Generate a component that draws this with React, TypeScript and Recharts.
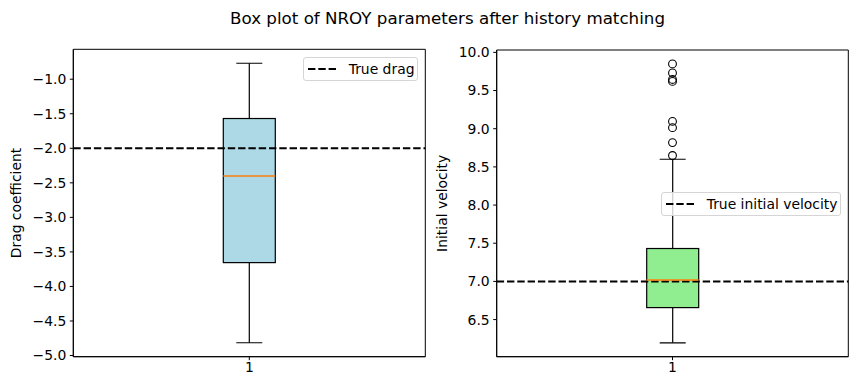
import React from 'react';
import {
  ComposedChart,
  Bar,
  Scatter,
  XAxis,
  YAxis,
  ReferenceLine,
  ReferenceArea,
} from 'recharts';

// values
const categories = ['1'];

const dragWhisker = [-4.815, -0.769];
const dragBox = [-3.655, -1.569];
const dragMedian = -2.402;
const dragOutliers: number[] = [];
const trueDrag = -2.0;
const dragTicks = [-5.0, -4.5, -4.0, -3.5, -3.0, -2.5, -2.0, -1.5, -1.0];
const dragDomain = [-5.017, -0.567];

const velWhisker = [6.196, 8.6];
const velBox = [6.657, 7.431];
const velMedian = 7.018;
const velOutliers = [8.649, 8.818, 9.014, 9.096, 9.62, 9.645, 9.731, 9.849];
const trueVelocity = 7.0;
const velTicks = [6.5, 7.0, 7.5, 8.0, 8.5, 9.0, 9.5, 10.0];
const velDomain = [6.014, 10.031];

const FONT = 'DejaVu Sans, sans-serif';
const DASH = '7.4 2.9';
const fmt = (v: number) => v.toFixed(1).replace('-', '\u2212');

const WhiskerShape = (props: any) => {
  const { x, y, width, height } = props;
  const top = Math.min(y, y + height);
  const bot = Math.max(y, y + height);
  const cx = x + width / 2;
  return (
    <g stroke="#000" strokeWidth={1.2}>
      <line x1={cx} x2={cx} y1={top} y2={bot} />
      <line x1={x} x2={x + width} y1={top} y2={top} />
      <line x1={x} x2={x + width} y1={bot} y2={bot} />
    </g>
  );
};

const boxShape = (fill: string) => (props: any) => {
  const { x, y, width, height } = props;
  return (
    <rect
      x={x}
      y={Math.min(y, y + height)}
      width={width}
      height={Math.abs(height)}
      fill={fill}
      stroke="#000"
      strokeWidth={1.2}
    />
  );
};

const MedianShape = (props: any) => {
  const { cx, cy } = props;
  return <line x1={cx - 26} x2={cx + 26} y1={cy} y2={cy} stroke="#ff7f0e" strokeWidth={1.4} />;
};

const FlierShape = (props: any) => {
  const { cx, cy } = props;
  return <circle cx={cx} cy={cy} r={3.9} fill="none" stroke="#000" strokeWidth={1.1} />;
};

const tickStyle = { fill: '#000', fontSize: 13.9, fontFamily: FONT };

interface PanelProps {
  left: number;
  width: number;
  yWidth: number;
  marginTop: number;
  marginRight: number;
  whisker: number[];
  box: number[];
  median: number;
  outliers: number[];
  trueValue: number;
  ticks: number[];
  domain: number[];
  fill: string;
  yLabel: string;
  labelX: number;
}

const Panel = (p: PanelProps) => {
  const rows = categories.map((name) => ({
    name,
    whisker: p.whisker,
    box: p.box,
    median: p.median,
  }));
  const flierRows = p.outliers.map((v) => ({ name: categories[0], v }));
  return (
    <div style={{ position: 'absolute', left: p.left, top: 0 }}>
      <ComposedChart
        width={p.width}
        height={391}
        data={rows}
        margin={{ top: p.marginTop, right: p.marginRight, bottom: 4.3, left: 0 }}
      >
        <XAxis
          xAxisId={0}
          dataKey="name"
          type="category"
          allowDuplicatedCategory={false}
          height={30}
          tick={tickStyle}
          tickSize={3.5}
          tickMargin={2}
          stroke="#000"
          tickLine={{ stroke: '#000' }}
        />
        <XAxis
          xAxisId="box"
          dataKey="name"
          type="category"
          allowDuplicatedCategory={false}
          hide
        />
        <YAxis
          type="number"
          domain={p.domain}
          ticks={p.ticks}
          allowDataOverflow
          width={p.yWidth}
          tick={tickStyle}
          tickFormatter={fmt}
          tickSize={3.5}
          tickMargin={3.5}
          stroke="#000"
          tickLine={{ stroke: '#000' }}
          label={{
            content: (lp: any) => {
              const vb = lp.viewBox || { y: 0, height: 391 };
              const cy = vb.y + vb.height / 2;
              return (
                <text
                  x={p.labelX}
                  y={cy}
                  transform={`rotate(-90, ${p.labelX}, ${cy})`}
                  textAnchor="middle"
                  dominantBaseline="central"
                  fontSize={13.9}
                  fontFamily={FONT}
                  fill="#000"
                >
                  {p.yLabel}
                </text>
              );
            },
          }}
        />
        {/* frame around the plot area (matplotlib spines) */}
        <ReferenceArea
          xAxisId={0}
          y1={p.domain[0]}
          y2={p.domain[1]}
          fill="none"
          fillOpacity={0}
          stroke="#000"
          strokeWidth={1}
          ifOverflow="visible"
        />
        <Bar
          xAxisId={0}
          dataKey="whisker"
          barSize={26}
          shape={WhiskerShape}
          isAnimationActive={false}
        />
        <Bar
          xAxisId="box"
          dataKey="box"
          barSize={52}
          shape={boxShape(p.fill)}
          isAnimationActive={false}
        />
        <ReferenceLine
          xAxisId={0}
          y={p.trueValue}
          stroke="#000"
          strokeWidth={2}
          strokeDasharray={DASH}
        />
        <Scatter
          xAxisId={0}
          dataKey="median"
          shape={MedianShape}
          isAnimationActive={false}
        />
        {p.outliers.length > 0 && (
          <Scatter
            xAxisId={0}
            data={flierRows}
            dataKey="v"
            shape={FlierShape}
            isAnimationActive={false}
          />
        )}
      </ComposedChart>
    </div>
  );
};

const LegendBox = ({ left, top, width, text }: { left: number; top: number; width: number; text: string }) => (
  <div
    style={{
      position: 'absolute',
      left,
      top,
      width,
      height: 24.5,
      boxSizing: 'border-box',
      border: '1px solid #d5d5d5',
      borderRadius: 3,
      background: 'rgba(255,255,255,0.8)',
      display: 'flex',
      alignItems: 'center',
      fontFamily: FONT,
      fontSize: 13.9,
      color: '#000',
    }}
  >
    <svg width={30} height={6} style={{ marginLeft: 4, marginRight: 11 }}>
      <line x1={0} x2={29} y1={3} y2={3} stroke="#000" strokeWidth={2} strokeDasharray={DASH} />
    </svg>
    <span style={{ whiteSpace: 'nowrap' }}>{text}</span>
  </div>
);

export default function App() {
  return (
    <div style={{ position: 'absolute', left: 0, top: 0, width: 857, height: 391, background: '#fff' }}>
      <div
        style={{
          position: 'absolute',
          left: 19,
          top: 8,
          width: 857,
          textAlign: 'center',
          fontFamily: FONT,
          fontSize: 16.7,
          lineHeight: '20px',
          color: '#000',
        }}
      >
        Box plot of NROY parameters after history matching
      </div>
      <Panel
        left={0}
        width={440}
        yWidth={73.3}
        marginTop={49.3}
        marginRight={14.7}
        whisker={dragWhisker}
        box={dragBox}
        median={dragMedian}
        outliers={dragOutliers}
        trueValue={trueDrag}
        ticks={dragTicks}
        domain={dragDomain}
        fill="#add8e6"
        yLabel="Drag coefficient"
        labelX={16}
      />
      <Panel
        left={430}
        width={427}
        yWidth={66.7}
        marginTop={50}
        marginRight={8.7}
        whisker={velWhisker}
        box={velBox}
        median={velMedian}
        outliers={velOutliers}
        trueValue={trueVelocity}
        ticks={velTicks}
        domain={velDomain}
        fill="#90ee90"
        yLabel="Initial velocity"
        labelX={12.5}
      />
      <LegendBox left={302.7} top={56.7} width={115.3} text="True drag" />
      <LegendBox left={660.7} top={191.7} width={180.6} text="True initial velocity" />
    </div>
  );
}
